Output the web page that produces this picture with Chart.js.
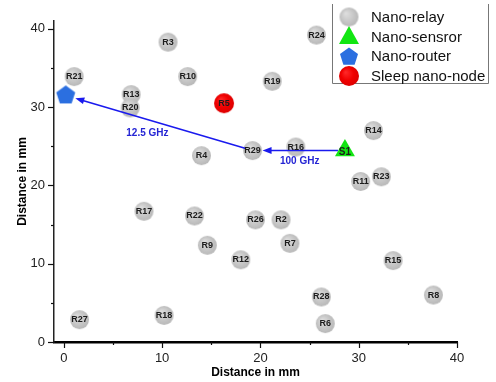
<!DOCTYPE html>
<html>
<head>
<meta charset="utf-8">
<script src="https://cdn.jsdelivr.net/npm/chart.js@4.4.1/dist/chart.umd.min.js"></script>
<style>
  html, body { margin: 0; padding: 0; background: #fff; }
  #wrap { width: 496px; height: 382px; }
</style>
</head>
<body>
<div id="wrap"><canvas id="node-chart" width="496" height="382"></canvas></div>
<script>
// Node positions (mm)
const relayNames = ["R2", "R3", "R4", "R6", "R7", "R8", "R9", "R10", "R11", "R12", "R13", "R14", "R15",
  "R16", "R17", "R18", "R19", "R20", "R21", "R22", "R23", "R24", "R26", "R27", "R28", "R29"];
const relayX = [22.1, 10.6, 14.0, 26.6, 23.0, 37.6, 14.6, 12.6, 30.2, 18.0, 6.85, 31.5, 33.5,
  23.6, 8.15, 10.2, 21.2, 6.75, 1.05, 13.3, 32.3, 25.7, 19.5, 1.6, 26.2, 19.2];
const relayY = [15.6, 38.3, 23.8, 2.35, 12.6, 6.0, 12.35, 33.9, 20.5, 10.5, 31.6, 27.0, 10.4,
  24.9, 16.7, 3.4, 33.3, 29.9, 33.9, 16.1, 21.1, 39.2, 15.6, 2.85, 5.75, 24.45];

const sensorNames = ["S1"];
const sensorX = [28.6];
const sensorY = [24.45];

const routerNames = [""];
const routerX = [0.19];
const routerY = [31.5];

const sleepNames = ["R5"];
const sleepX = [16.3];
const sleepY = [30.5];

// Links: from, to, label, label position (mm)
const linkFrom = ["R29", "S1"];
const linkTo = ["router", "R29"];
const linkLabels = ["12.5 GHz", "100 GHz"];
const linkLabelX = [8.5, 24.0];
const linkLabelY = [26.65, 23.1];

const legendLabels = ["Nano-relay", "Nano-sensror", "Nano-router", "Sleep nano-node"];

const FONT = "'Liberation Sans', Arial, Helvetica, sans-serif";

// small sprite helpers for the point styles
function makeSphere(r, c0, c1, c2) {
  const cv = document.createElement("canvas");
  cv.width = cv.height = Math.ceil(r * 2 + 2);
  const g = cv.getContext("2d");
  const c = cv.width / 2;
  const grad = g.createRadialGradient(c - r * 0.35, c - r * 0.4, 0, c, c, r * 1.15);
  grad.addColorStop(0, c0);
  grad.addColorStop(0.55, c1);
  grad.addColorStop(1, c2);
  g.fillStyle = grad;
  g.beginPath();
  g.arc(c, c, r, 0, Math.PI * 2);
  g.fill();
  return cv;
}

function drawPentagon(g, cx, cy, R, color) {
  g.fillStyle = color;
  g.beginPath();
  for (let i = 0; i < 5; i++) {
    const a = -Math.PI / 2 + i * 2 * Math.PI / 5;
    const px = cx + R * Math.cos(a), py = cy + R * Math.sin(a);
    if (i === 0) g.moveTo(px, py); else g.lineTo(px, py);
  }
  g.closePath();
  g.fill();
}

function makePentagon(R, color) {
  const cv = document.createElement("canvas");
  cv.width = cv.height = Math.ceil(R * 2 + 2);
  drawPentagon(cv.getContext("2d"), cv.width / 2, cv.height / 2, R, color);
  return cv;
}

const graySphere = makeSphere(9.5, "#e0e0e0", "#c8c8c8", "#b4b4b4");
const redSphere = makeSphere(10, "#ff2a2a", "#f00000", "#d80000");
const blueColor = "#2b6fe0";
const greenColor = "#12e612";
const pentagon = makePentagon(10, blueColor);

function toPoints(xs, ys) {
  return xs.map((x, i) => ({ x: x, y: ys[i] }));
}

// node label + arrow + legend plugin
const decorations = {
  id: "decorations",
  afterDatasetsDraw(chart) {
    const ctx = chart.ctx;
    const xs = chart.scales.x, ys = chart.scales.y;
    const pos = (name) => {
      if (name === "router") return [xs.getPixelForValue(routerX[0]), ys.getPixelForValue(routerY[0])];
      let i = relayNames.indexOf(name);
      if (i >= 0) return [xs.getPixelForValue(relayX[i]), ys.getPixelForValue(relayY[i])];
      i = sensorNames.indexOf(name);
      if (i >= 0) return [xs.getPixelForValue(sensorX[i]), ys.getPixelForValue(sensorY[i])];
      i = sleepNames.indexOf(name);
      return [xs.getPixelForValue(sleepX[i]), ys.getPixelForValue(sleepY[i])];
    };

    ctx.save();

    // axis tick marks (major outward, minor shorter)
    ctx.strokeStyle = "#111";
    ctx.lineWidth = 1.2;
    for (let v = 0; v <= 40; v += 5) {
      const px = Math.round(xs.getPixelForValue(v)) + 0.5;
      const len = v % 10 === 0 ? 6 : 3;
      ctx.beginPath();
      ctx.moveTo(px, chart.chartArea.bottom);
      ctx.lineTo(px, chart.chartArea.bottom + len);
      ctx.stroke();
      const py = Math.round(ys.getPixelForValue(v)) + 0.5;
      ctx.beginPath();
      ctx.moveTo(chart.chartArea.left, py);
      ctx.lineTo(chart.chartArea.left - len, py);
      ctx.stroke();
    }

    // arrows
    ctx.strokeStyle = "#1a1aee";
    ctx.fillStyle = "#1a1aee";
    ctx.lineWidth = 1.5;
    linkFrom.forEach((from, i) => {
      const [x0, y0] = pos(from);
      const [x1, y1] = pos(linkTo[i]);
      const dx = x1 - x0, dy = y1 - y0;
      const d = Math.hypot(dx, dy);
      const ux = dx / d, uy = dy / d;
      const sx = x0 + ux * 7, sy = y0 + uy * 7;
      const ex = x1 - ux * 10, ey = y1 - uy * 10;
      ctx.beginPath();
      ctx.moveTo(sx, sy);
      ctx.lineTo(ex - ux * 6, ey - uy * 6);
      ctx.stroke();
      ctx.beginPath();
      ctx.moveTo(ex, ey);
      ctx.lineTo(ex - ux * 9 - uy * 3.5, ey - uy * 9 + ux * 3.5);
      ctx.lineTo(ex - ux * 9 + uy * 3.5, ey - uy * 9 - ux * 3.5);
      ctx.closePath();
      ctx.fill();

      ctx.fillStyle = "#2424d4";
      ctx.font = "bold 10px " + FONT;
      ctx.textAlign = "center";
      ctx.textBaseline = "middle";
      ctx.fillText(linkLabels[i], xs.getPixelForValue(linkLabelX[i]), ys.getPixelForValue(linkLabelY[i]));
      ctx.fillStyle = "#1a1aee";
    });

    // node labels
    ctx.fillStyle = "#1c1c1c";
    ctx.font = "bold 9px " + FONT;
    ctx.textAlign = "center";
    ctx.textBaseline = "middle";
    relayNames.forEach((n, i) => {
      ctx.fillText(n, xs.getPixelForValue(relayX[i]), ys.getPixelForValue(relayY[i]));
    });
    sleepNames.forEach((n, i) => {
      ctx.fillText(n, xs.getPixelForValue(sleepX[i]), ys.getPixelForValue(sleepY[i]));
    });
    ctx.font = "bold 10px " + FONT;
    sensorNames.forEach((n, i) => {
      ctx.fillText(n, xs.getPixelForValue(sensorX[i]), ys.getPixelForValue(sensorY[i]) + 2);
    });

    // legend box
    const lx = 332, rx = 488, by = 83, ty = 4;
    ctx.fillStyle = "#fff";
    ctx.fillRect(lx + 1, ty, rx - lx - 1, by - ty);
    ctx.strokeStyle = "#777";
    ctx.lineWidth = 1;
    ctx.beginPath();
    ctx.moveTo(lx + 0.5, ty);
    ctx.lineTo(lx + 0.5, by + 0.5);
    ctx.lineTo(rx + 0.5, by + 0.5);
    ctx.lineTo(rx + 0.5, ty);
    ctx.stroke();

    const mx = 349, rows = [17, 37, 56, 76];
    ctx.drawImage(graySphere, mx - graySphere.width / 2, rows[0] - graySphere.height / 2);
    ctx.fillStyle = greenColor;
    ctx.beginPath();
    ctx.moveTo(mx, rows[1] - 11);
    ctx.lineTo(mx + 10, rows[1] + 7);
    ctx.lineTo(mx - 10, rows[1] + 7);
    ctx.closePath();
    ctx.fill();
    drawPentagon(ctx, mx, rows[2] + 1, 9.5, blueColor);
    ctx.drawImage(redSphere, mx - redSphere.width / 2, rows[3] - redSphere.height / 2);

    ctx.fillStyle = "#111";
    ctx.font = "15px " + FONT;
    ctx.textAlign = "left";
    legendLabels.forEach((t, i) => ctx.fillText(t, 371, rows[i] + 0.5));

    ctx.restore();
  },
};

const ctx = document.getElementById("node-chart").getContext("2d");
const chart = new Chart(ctx, {
  type: "scatter",
  data: {
    datasets: [
      {
        label: legendLabels[0],
        data: toPoints(relayX, relayY),
        pointStyle: graySphere,
        pointRadius: 9.5,
      },
      {
        label: legendLabels[1],
        data: toPoints(sensorX, sensorY),
        pointStyle: "triangle",
        pointRadius: 11.5,
        backgroundColor: greenColor,
        borderColor: greenColor,
        borderWidth: 0,
      },
      {
        label: legendLabels[2],
        data: toPoints(routerX, routerY),
        pointStyle: pentagon,
        pointRadius: 10,
      },
      {
        label: legendLabels[3],
        data: toPoints(sleepX, sleepY),
        pointStyle: redSphere,
        pointRadius: 10,
      },
    ],
  },
  options: {
    responsive: false,
    animation: false,
    devicePixelRatio: 1,
    layout: { padding: { top: 21, right: 39, left: 0, bottom: 0 } },
    plugins: {
      legend: { display: false },
      tooltip: { enabled: false },
    },
    scales: {
      x: {
        type: "linear",
        min: -1,
        max: 40,
        afterFit: (s) => { s.height = 40; },
        grid: { display: false, drawTicks: false },
        border: { display: true, color: "#000", width: 2.5 },
        ticks: {
          stepSize: 5,
          includeBounds: false,
          autoSkip: false,
          maxRotation: 0,
          padding: 9,
          color: "#222",
          font: { family: FONT, size: 13 },
          callback: (v) => (v % 10 === 0 ? v : ""),
        },
        title: {
          display: true,
          text: "Distance in mm",
          color: "#000",
          font: { family: FONT, size: 12, weight: "bold" },
          padding: { top: 0, bottom: 2 },
        },
      },
      y: {
        type: "linear",
        min: 0,
        max: 41,
        afterFit: (s) => { s.width = 54; },
        grid: { display: false, drawTicks: false },
        border: { display: true, color: "#222", width: 1.5 },
        ticks: {
          stepSize: 5,
          includeBounds: false,
          autoSkip: false,
          padding: 9,
          color: "#222",
          font: { family: FONT, size: 13 },
          callback: (v) => (v % 10 === 0 ? v : ""),
        },
        title: {
          display: true,
          text: "Distance in mm",
          color: "#000",
          font: { family: FONT, size: 12, weight: "bold" },
          padding: { top: 15, bottom: 0 },
        },
      },
    },
  },
  plugins: [decorations],
});
</script>
</body>
</html>
